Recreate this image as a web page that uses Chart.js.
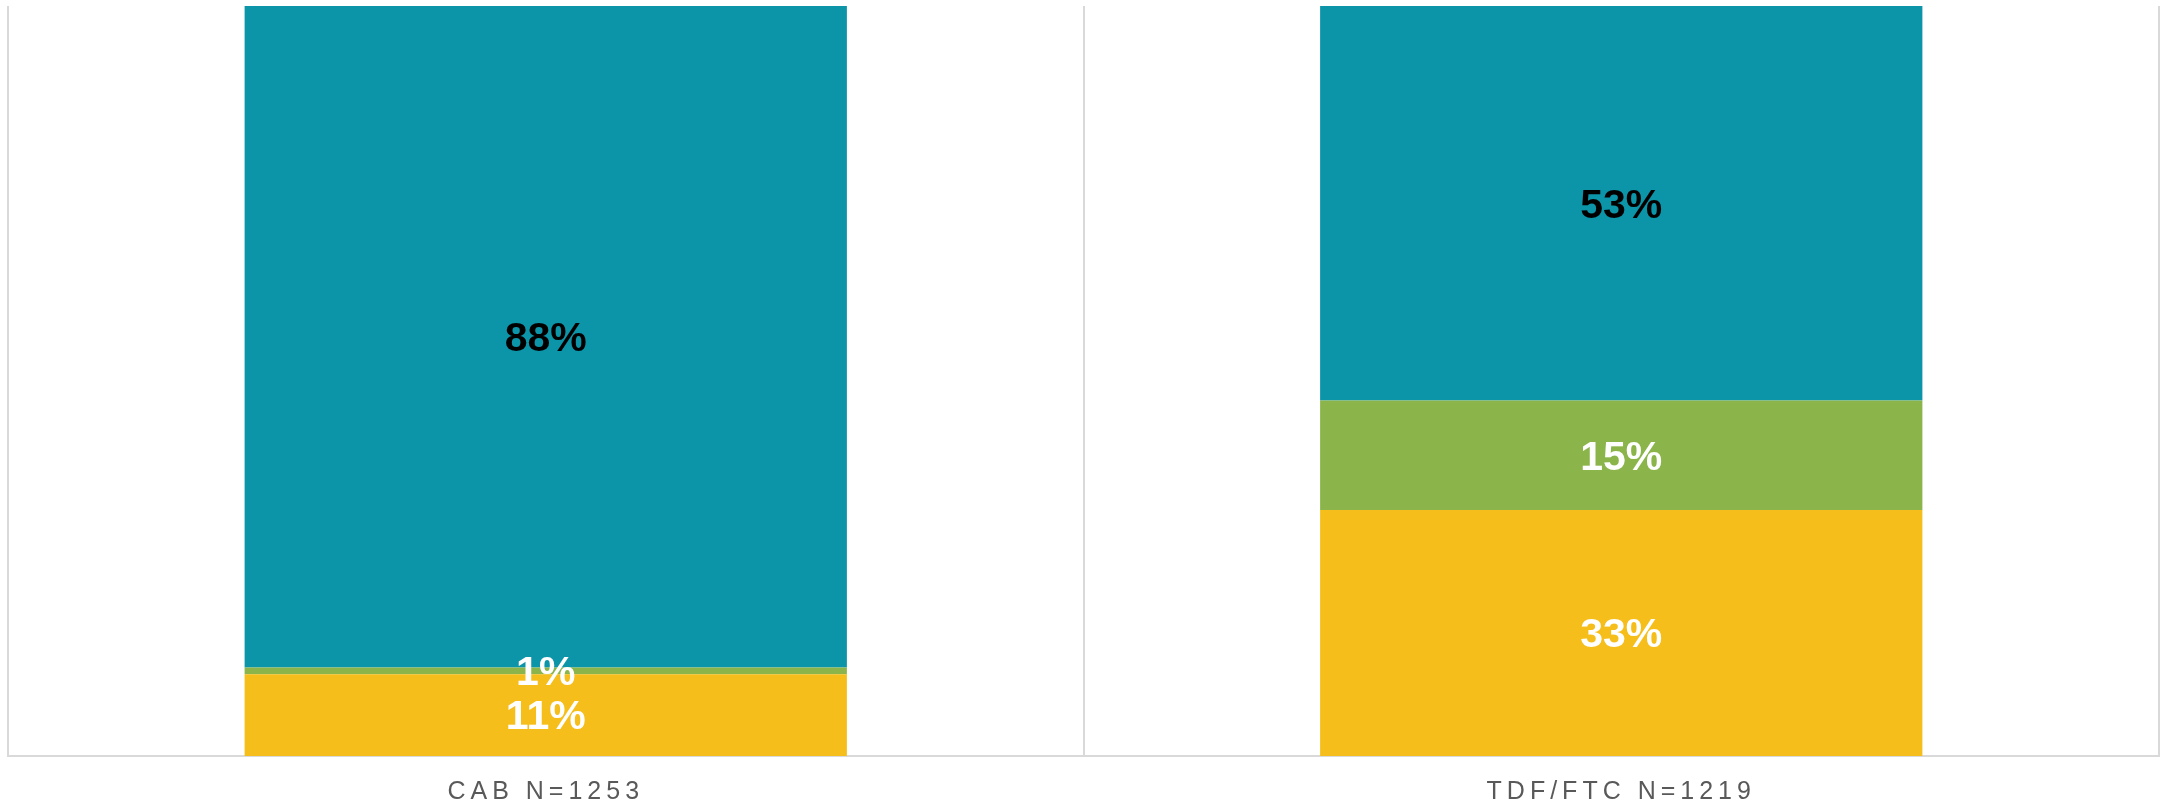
<!DOCTYPE html>
<html>
<head>
<meta charset="utf-8">
<script src="https://cdn.jsdelivr.net/npm/chart.js@4/dist/chart.umd.min.js"></script>
<style>
  html, body { margin: 0; padding: 0; background: #fff; }
  #wrap { width: 2160px; height: 807px; }
</style>
</head>
<body>
<div id="wrap"><canvas id="grafico"></canvas></div>
<script>
// categorias e series
const categorias = ['CAB N=1253', 'TDF/FTC N=1219']
const serieAmarela = [10.9, 32.8]
const serieVerde = [0.9, 14.6]
const serieAzul = [88.2, 52.6]

const corAmarela = '#f5be1b'
const corVerde = '#8bb54a'
const corAzul = '#0c94a9'
const corGrade = '#d9d9d9'

// rotulos de porcentagem no meio de cada segmento
const rotulos = {
    id: 'rotulos',
    afterDatasetsDraw(chart) {
        const ctx = chart.ctx
        ctx.save()
        ctx.font = 'bold 41px "Liberation Sans", Arial, sans-serif'
        ctx.textAlign = 'center'
        ctx.textBaseline = 'middle'
        chart.data.datasets.forEach((ds, i) => {
            const meta = chart.getDatasetMeta(i)
            meta.data.forEach((bar, j) => {
                const v = ds.data[j]
                if (v == null) return
                ctx.fillStyle = ds.corRotulo
                ctx.fillText(Math.round(v) + '%', bar.x, (bar.y + bar.base) / 2 + 3)
            })
        })
        ctx.restore()
    }
}

// espacamento entre letras nos rotulos do eixo x
const espacamento = {
    id: 'espacamento',
    beforeDraw(chart) { chart.ctx.letterSpacing = '5px' },
    beforeDatasetsDraw(chart) { chart.ctx.letterSpacing = '0px' }
}

const ctx = document.getElementById('grafico').getContext('2d')
new Chart(ctx, {
    type: 'bar',
    data: {
        labels: categorias,
        datasets: [
            { label: 'amarelo', data: serieAmarela, backgroundColor: corAmarela, corRotulo: '#ffffff' },
            { label: 'verde', data: serieVerde, backgroundColor: corVerde, corRotulo: '#ffffff' },
            { label: 'azul', data: serieAzul, backgroundColor: corAzul, corRotulo: '#000000' }
        ]
    },
    options: {
        responsive: true,
        maintainAspectRatio: false,
        animation: false,
        categoryPercentage: 0.56,
        barPercentage: 1,
        layout: { padding: { left: 8, right: 1, top: 6, bottom: 2 } },
        plugins: {
            legend: { display: false },
            tooltip: { enabled: false }
        },
        scales: {
            x: {
                stacked: true,
                grid: { color: corGrade, lineWidth: 2, drawTicks: false, offset: true },
                border: { color: corGrade, width: 2 },
                afterFit(scale) { scale.height = 49 },
                ticks: {
                    color: '#595959',
                    padding: 21,
                    font: { family: '"Liberation Sans", Arial, sans-serif', size: 25 }
                }
            },
            y: {
                stacked: true,
                display: false,
                min: 0,
                max: 100
            }
        }
    },
    plugins: [rotulos, espacamento]
})
</script>
</body>
</html>
